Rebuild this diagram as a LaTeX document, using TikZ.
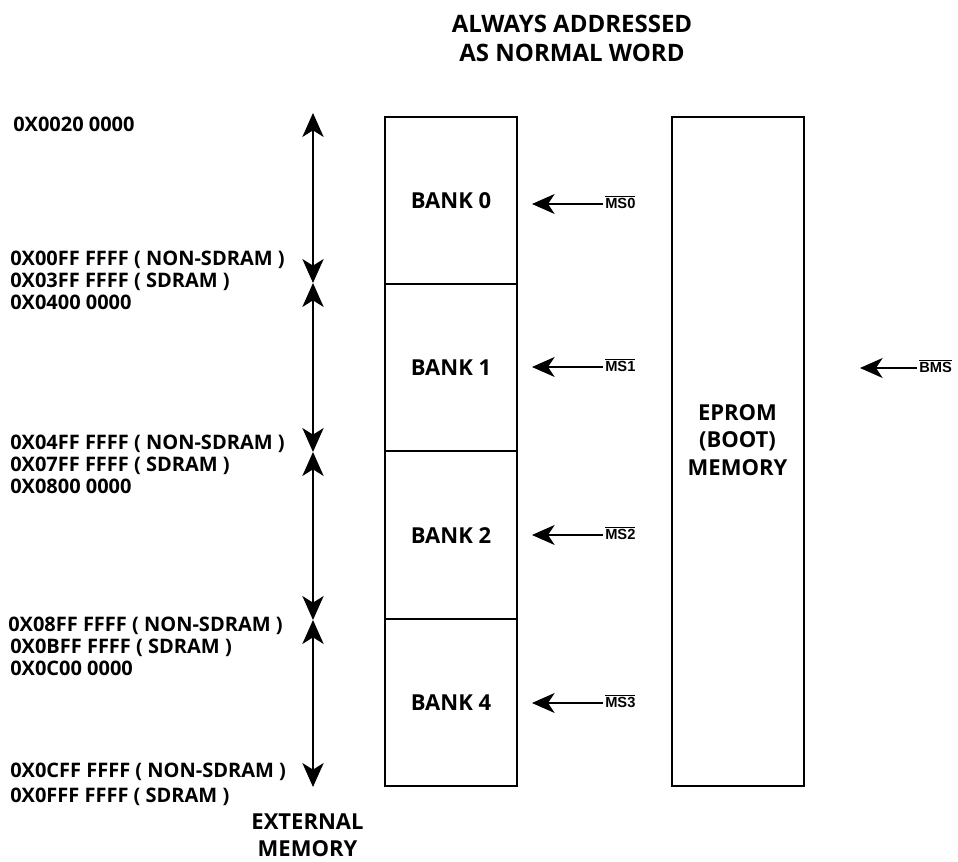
\documentclass[tikz,border=0pt]{standalone}
\usepackage{fontspec}
\setmainfont{Open Sans}
\newfontfamily\arialfont{Liberation Sans}
\usetikzlibrary{arrows.meta}
\usetikzlibrary{positioning}

% active-low signal name
\newcommand\barsig[1]{\vbox{\hrule height 0.8pt\kern1.2pt\hbox{#1}}}

\begin{document}
\begin{tikzpicture}[
    x=0.75pt, y=-0.75pt,
    every node/.style={inner sep=0pt},
    addr/.style={anchor=base west, font=\bfseries\fontsize{15}{18}\selectfont},
    caption/.style={align=center, anchor=base, font=\bfseries\fontsize{16.5}{20.5}\selectfont},
    membox/.style={draw, line width=1.5pt, minimum width=99pt, minimum height=125.4pt,
                   font=\bfseries\fontsize{16.5}{20.5}\selectfont},
    sig/.style={anchor=base west, inner xsep=1.5pt, font=\arialfont\bfseries\fontsize{11}{13}\selectfont},
    span/.style={line width=1pt, {Stealth[length=18pt, width=16pt, inset=5pt]}-{Stealth[length=18pt, width=16pt, inset=5pt]}},
    sel/.style={line width=1pt, -{Stealth[length=17pt, width=15pt, inset=5pt]}},
  ]

  \useasboundingbox (0,0) rectangle (958,862);

  % title and footer
  \node[caption, font=\bfseries\fontsize{18}{21.75}\selectfont] (title) at (572,62)
    {ALWAYS ADDRESSED\\AS NORMAL WORD};
  \node[caption] (ext) at (307.5,857) {EXTERNAL\\MEMORY};

  % address labels
  \node[addr] (a0)  at (13,132)  {0X0020 0000};
  \node[addr] (a1)  at (10,266)  {0X00FF FFFF ( NON-SDRAM )};
  \node[addr] (a2)  at (10,288)  {0X03FF FFFF ( SDRAM )};
  \node[addr] (a3)  at (10,310)  {0X0400 0000};
  \node[addr] (a4)  at (10,450)  {0X04FF FFFF ( NON-SDRAM )};
  \node[addr] (a5)  at (10,472)  {0X07FF FFFF ( SDRAM )};
  \node[addr] (a6)  at (10,494)  {0X0800 0000};
  \node[addr] (a7)  at (8,632)   {0X08FF FFFF ( NON-SDRAM )};
  \node[addr] (a8)  at (10,654)  {0X0BFF FFFF ( SDRAM )};
  \node[addr] (a9)  at (10,676)  {0X0C00 0000};
  \node[addr] (a10) at (10,778)  {0X0CFF FFFF ( NON-SDRAM )};
  \node[addr] (a11) at (10,803)  {0X0FFF FFFF ( SDRAM )};

  % memory banks
  \node[membox] (bank0) at (451,200.6) {BANK 0};
  \node[membox] (bank1) at (451,367.9) {BANK 1};
  \node[membox] (bank2) at (451,535.1) {BANK 2};
  \node[membox] (bank3) at (451,702.4) {BANK 4};
  \node[membox, minimum height=502pt] (eprom) at (737.5,451.5) {};
  \node[caption, anchor=center] (epromtext) at (737.5,440) {EPROM\\(BOOT)\\MEMORY};

  % address ranges
  \coordinate (r0) at (313,113);
  \coordinate (r1) at (313,283);
  \coordinate (r2) at (313,452);
  \coordinate (r3) at (313,620);
  \coordinate (r4) at (313,787);
  \draw[span] (r0) -- (r1);
  \draw[span] (r1) -- (r2);
  \draw[span] (r2) -- (r3);
  \draw[span] (r3) -- (r4);

  % select lines
  \coordinate (p0) at (532,204);
  \coordinate (p1) at (532,367);
  \coordinate (p2) at (532,535);
  \coordinate (p3) at (532,703);
  \coordinate (pb) at (860,368);
  \node[sig] (ms0) at (603,209) {\barsig{MS0}};
  \node[sig] (ms1) at (603,372) {\barsig{MS1}};
  \node[sig] (ms2) at (603,540) {\barsig{MS2}};
  \node[sig] (ms3) at (603,708) {\barsig{MS3}};
  \node[sig] (bms) at (917,373) {\barsig{BMS}};
  \draw[sel] (ms0.west |- p0) -- (p0);
  \draw[sel] (ms1.west |- p1) -- (p1);
  \draw[sel] (ms2.west |- p2) -- (p2);
  \draw[sel] (ms3.west |- p3) -- (p3);
  \draw[sel] (bms.west |- pb) -- (pb);

\end{tikzpicture}
\end{document}
